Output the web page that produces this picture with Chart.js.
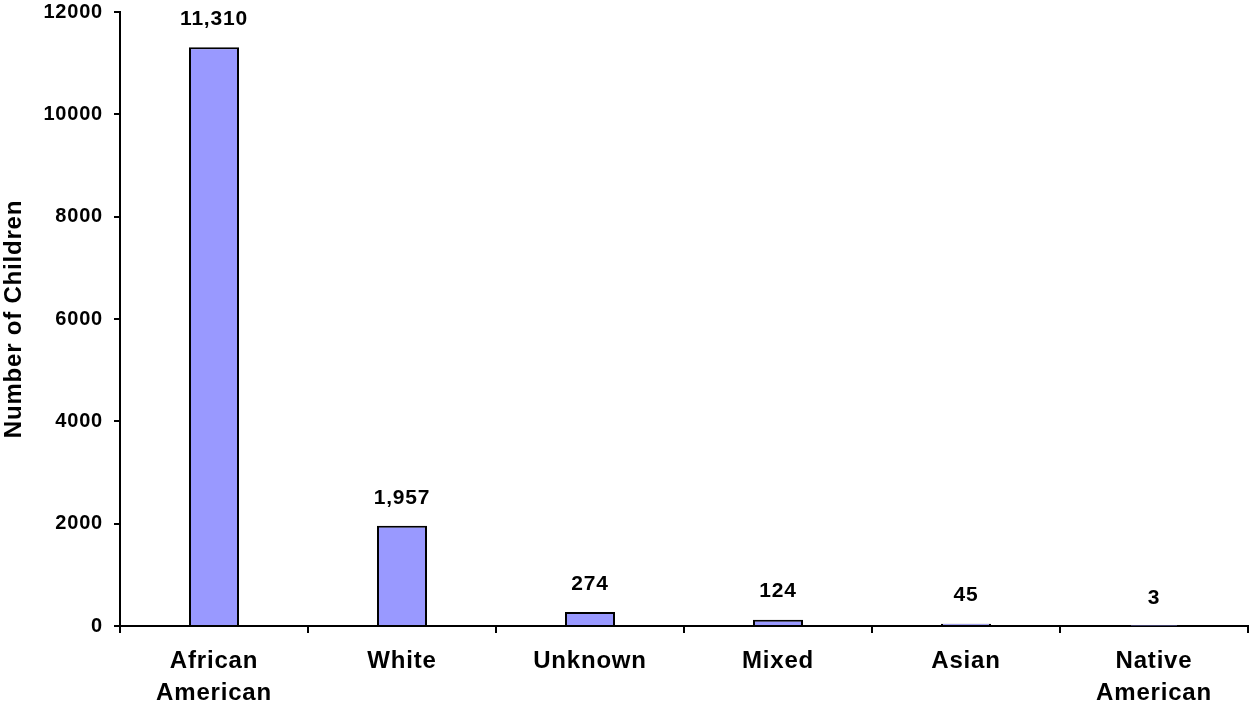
<!DOCTYPE html>
<html>
<head>
<meta charset="utf-8">
<script src="https://cdn.jsdelivr.net/npm/chart.js@4"></script>
<style>
  html, body { margin: 0; padding: 0; background: #fff; }
  #wrap { width: 1250px; height: 710px; }
</style>
</head>
<body>
<div id="wrap"><canvas id="chart" width="1250" height="710"></canvas></div>
<script>
// Children by race — single bar series with value labels above each bar.

const categories = [["African", "American"], "White", "Unknown", "Mixed", "Asian", ["Native", "American"]];
const children = [11310, 1957, 274, 124, 45, 3];
const yTicks = [0, 2000, 4000, 6000, 8000, 10000, 12000];

const FONT = "'Liberation Sans', Arial, sans-serif";
const BAR_FILL = "#9999ff";
const LABEL_LIFT = 28; // px from bar top to label centre

// Excel renders its text a touch wider than canvas does
const spacing = {
  id: "spacing",
  beforeDraw(chart) { chart.ctx.letterSpacing = "0.8px"; }
};

// draws the "11,310"-style numbers above each bar
const valueLabels = {
  id: "valueLabels",
  afterDatasetsDraw(chart) {
    const ctx = chart.ctx;
    const meta = chart.getDatasetMeta(0);
    ctx.save();
    ctx.font = "bold 21px " + FONT;
    ctx.fillStyle = "#000";
    ctx.textAlign = "center";
    ctx.textBaseline = "middle";
    meta.data.forEach((bar, i) => {
      ctx.fillText(children[i].toLocaleString("en-US"), bar.x, bar.y - LABEL_LIFT);
    });
    ctx.restore();
  }
};

new Chart(document.getElementById("chart"), {
  type: "bar",
  data: {
    labels: categories,
    datasets: [{
      data: children,
      backgroundColor: BAR_FILL,
      borderColor: "#000",
      borderWidth: 2,
      categoryPercentage: 1,
      barPercentage: 0.266,
    }],
  },
  options: {
    responsive: false,
    animation: false,
    layout: { padding: { top: 12, right: 2, left: 0, bottom: 0 } },
    plugins: { legend: { display: false }, tooltip: { enabled: false } },
    scales: {
      x: {
        grid: { drawOnChartArea: false, offset: true, color: "#000", lineWidth: 2, tickLength: 7 },
        border: { display: true, color: "#000", width: 2 },
        ticks: { color: "#000", font: { family: FONT, size: 24, weight: "bold", lineHeight: 1.35 }, padding: 12, maxRotation: 0, autoSkip: false },
        afterFit(scale) { scale.height = 84; scale.paddingLeft = 0; scale.paddingRight = 0; },
      },
      y: {
        min: 0,
        max: 12000,
        afterBuildTicks(scale) { scale.ticks = yTicks.map(v => ({ value: v })); },
        grid: { drawOnChartArea: false, color: "#000", lineWidth: 2, tickLength: 6 },
        border: { display: true, color: "#000", width: 2 },
        ticks: { color: "#000", font: { family: FONT, size: 20, weight: "bold" }, padding: 11, callback: v => String(v) },
        title: { display: true, text: "Number of Children", color: "#000", font: { family: FONT, size: 24, weight: "bold" }, padding: { top: 0, bottom: 0 } },
        afterFit(scale) { scale.width = 120; scale.paddingTop = 0; scale.paddingBottom = 0; },
      },
    },
  },
  plugins: [spacing, valueLabels],
});
</script>
</body>
</html>
